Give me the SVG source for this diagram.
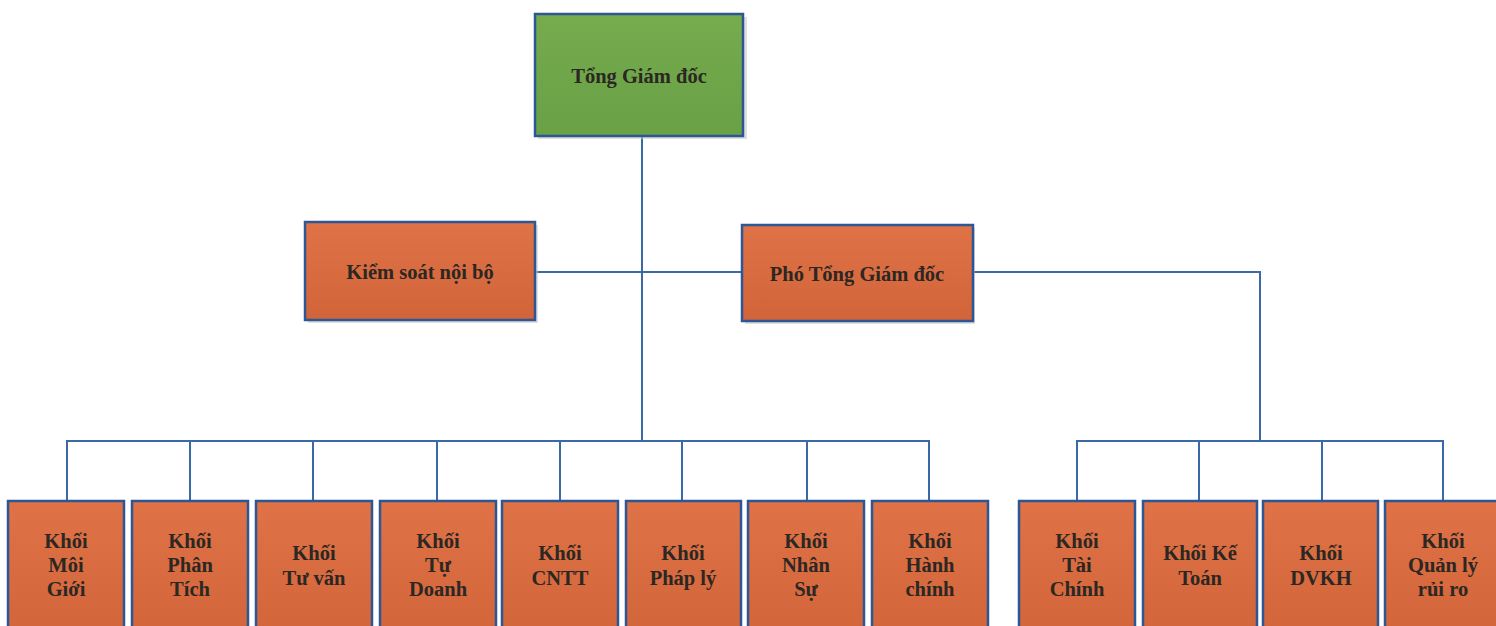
<svg xmlns="http://www.w3.org/2000/svg" width="1496" height="626" viewBox="0 0 1496 626">
<style>
  .box { stroke: #2d5694; stroke-width: 2.5; }
  .org { fill: url(#gOrg); }
  .grn { fill: url(#gGrn); }
  .shadow { fill: #c9c9c9; opacity: 0.6; }
  .t { font-family: "Liberation Serif", "Times New Roman", serif; font-weight: bold; font-size: 20.5px; fill: #2b2723; text-anchor: middle; }
  .c { fill: none; stroke: #3b68a6; stroke-width: 2; }
</style>
<defs>
  <linearGradient id="gOrg" x1="0" y1="0" x2="0" y2="1">
    <stop offset="0" stop-color="#df7246"/>
    <stop offset="1" stop-color="#d2643a"/>
  </linearGradient>
  <linearGradient id="gGrn" x1="0" y1="0" x2="0" y2="1">
    <stop offset="0" stop-color="#76ac4e"/>
    <stop offset="1" stop-color="#6aa046"/>
  </linearGradient>
</defs>
<rect width="1496" height="626" fill="#ffffff"/>

<g id="connectors">
  <path class="c" d="M642 136 V441"/>
  <path class="c" d="M535 272 H742"/>
  <path class="c" d="M973 272 H1260 V441"/>
  <path class="c" d="M67 501 V441 H929 V501"/>
  <path class="c" d="M190 441 V501 M313 441 V501 M437 441 V501 M560 441 V501 M682 441 V501 M807 441 V501"/>
  <path class="c" d="M1077 501 V441 H1443 V501"/>
  <path class="c" d="M1199 441 V501 M1322 441 V501"/>
</g>

<g id="tong-giam-doc">
  <rect class="shadow" x="538" y="17" width="209" height="122"/>
  <rect class="box grn" x="535" y="14" width="208" height="122"/>
  <text class="t" x="639" y="83">Tổng Giám đốc</text>
</g>

<g id="kiem-soat-noi-bo">
  <rect class="shadow" x="308" y="225" width="230" height="98"/>
  <rect class="box org" x="305" y="222" width="230" height="98"/>
  <text class="t" x="420" y="279">Kiểm soát nội bộ</text>
</g>

<g id="pho-tong-giam-doc">
  <rect class="shadow" x="745" y="228" width="230" height="96"/>
  <rect class="box org" x="742" y="225" width="231" height="96"/>
  <text class="t" x="857" y="281">Phó Tổng Giám đốc</text>
</g>

<g id="khoi-moi-gioi">
  <rect class="box org" x="8" y="501" width="116" height="140"/>
  <text class="t" x="66" y="548">Khối</text>
  <text class="t" x="66" y="572">Môi</text>
  <text class="t" x="66" y="596">Giới</text>
</g>

<g id="khoi-phan-tich">
  <rect class="box org" x="132" y="501" width="116" height="140"/>
  <text class="t" x="190" y="548">Khối</text>
  <text class="t" x="190" y="572">Phân</text>
  <text class="t" x="190" y="596">Tích</text>
</g>

<g id="khoi-tu-van">
  <rect class="box org" x="256" y="501" width="116" height="140"/>
  <text class="t" x="314" y="560">Khối</text>
  <text class="t" x="314" y="585">Tư vấn</text>
</g>

<g id="khoi-tu-doanh">
  <rect class="box org" x="380" y="501" width="116" height="140"/>
  <text class="t" x="438" y="548">Khối</text>
  <text class="t" x="438" y="572">Tự</text>
  <text class="t" x="438" y="596">Doanh</text>
</g>

<g id="khoi-cntt">
  <rect class="box org" x="502" y="501" width="116" height="140"/>
  <text class="t" x="560" y="560">Khối</text>
  <text class="t" x="560" y="585">CNTT</text>
</g>

<g id="khoi-phap-ly">
  <rect class="box org" x="626" y="501" width="115" height="140"/>
  <text class="t" x="683" y="560">Khối</text>
  <text class="t" x="683" y="585">Pháp lý</text>
</g>

<g id="khoi-nhan-su">
  <rect class="box org" x="748" y="501" width="116" height="140"/>
  <text class="t" x="806" y="548">Khối</text>
  <text class="t" x="806" y="572">Nhân</text>
  <text class="t" x="806" y="596">Sự</text>
</g>

<g id="khoi-hanh-chinh">
  <rect class="box org" x="872" y="501" width="116" height="140"/>
  <text class="t" x="930" y="548">Khối</text>
  <text class="t" x="930" y="572">Hành</text>
  <text class="t" x="930" y="596">chính</text>
</g>

<g id="khoi-tai-chinh">
  <rect class="box org" x="1019" y="501" width="116" height="140"/>
  <text class="t" x="1077" y="548">Khối</text>
  <text class="t" x="1077" y="572">Tài</text>
  <text class="t" x="1077" y="596">Chính</text>
</g>

<g id="khoi-ke-toan">
  <rect class="box org" x="1143" y="501" width="114" height="140"/>
  <text class="t" x="1200" y="560">Khối Kế</text>
  <text class="t" x="1200" y="585">Toán</text>
</g>

<g id="khoi-dvkh">
  <rect class="box org" x="1263" y="501" width="115" height="140"/>
  <text class="t" x="1321" y="560">Khối</text>
  <text class="t" x="1321" y="585">DVKH</text>
</g>

<g id="khoi-quan-ly-rui-ro">
  <rect class="box org" x="1385" y="501" width="116" height="140"/>
  <text class="t" x="1443" y="548">Khối</text>
  <text class="t" x="1443" y="572">Quản lý</text>
  <text class="t" x="1443" y="596">rủi ro</text>
</g>
</svg>
